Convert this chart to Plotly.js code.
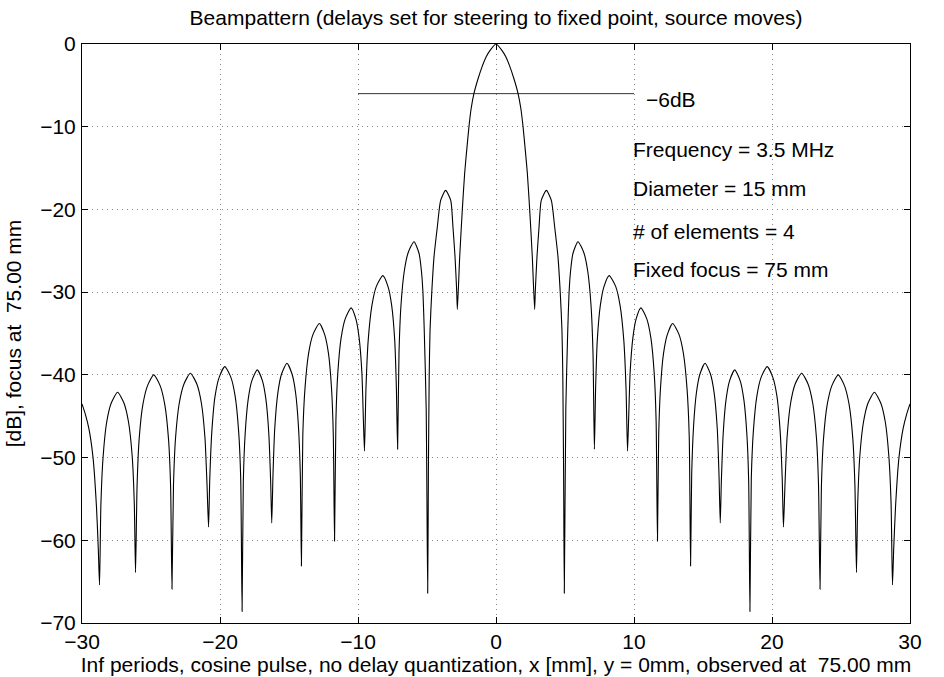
<!DOCTYPE html>
<html>
<head>
<meta charset="utf-8">
<script src="https://cdn.plot.ly/plotly-3.0.1.min.js"></script>
<style>html,body{margin:0;padding:0;background:#fff;}#chart{width:944px;height:677px;}</style>
</head>
<body>
<div id="chart"></div>
<script>
// Lateral position x [mm] and beampattern level [dB]
const beamX = [
 -30,-29.75,-29.5,-29.2,-28.95,-28.82,-28.73,
 -28.63,-28.47,-28.21,-27.88,-27.42,-26.96,-26.63,-26.36,-26.21,-26.12,
 -26.01,-25.86,-25.59,-25.25,-24.8,-24.34,-24.0,-23.73,-23.58,-23.48,
 -23.37,-23.22,-22.95,-22.61,-22.15,-21.68,-21.35,-21.09,-20.94,-20.83,
 -20.74,-20.59,-20.36,-20.06,-19.65,-19.21,-18.9,-18.65,-18.5,-18.4,
 -18.31,-18.18,-17.96,-17.69,-17.3,-16.93,-16.67,-16.46,-16.33,-16.25,
 -16.16,-16.03,-15.81,-15.54,-15.15,-14.78,-14.52,-14.31,-14.18,-14.1,
 -14.0,-13.84,-13.58,-13.26,-12.8,-12.42,-12.14,-11.92,-11.79,-11.7,
 -11.6,-11.46,-11.22,-10.92,-10.5,-10.16,-9.92,-9.72,-9.61,-9.53,
 -9.42,-9.26,-8.99,-8.67,-8.2,-7.83,-7.56,-7.34,-7.22,-7.13,
 -7.03,-6.89,-6.65,-6.36,-5.94,-5.58,-5.4,-5.29,-5.2,-5.06,-4.95,
 -4.9,-4.84,-4.78,-4.66,-4.49,-4.25,-4.01,-3.65,-3.28,-3.12,-2.97,-2.85,-2.8,
 -2.63,-2.44,-2.27,-2.12,-1.96,-1.8,-1.6,-1.3,-1.0,-0.7,-0.4,0,
 0.4,0.7,1.0,1.3,1.6,1.8,1.96,2.12,2.27,2.44,2.63,
 2.8,2.85,2.97,3.12,3.28,3.65,4.01,4.25,4.49,4.66,4.78,4.84,4.9,
 4.95,5.06,5.2,5.29,5.4,5.58,5.94,6.36,6.65,6.89,7.03,
 7.13,7.22,7.34,7.56,7.83,8.2,8.67,8.99,9.26,9.42,
 9.53,9.61,9.72,9.92,10.16,10.5,10.92,11.22,11.46,11.6,
 11.7,11.79,11.92,12.14,12.42,12.8,13.26,13.58,13.84,14.0,
 14.1,14.18,14.31,14.52,14.78,15.15,15.54,15.81,16.03,16.16,
 16.25,16.33,16.46,16.67,16.93,17.3,17.69,17.96,18.18,18.31,
 18.4,18.5,18.65,18.9,19.21,19.65,20.06,20.36,20.59,20.74,
 20.83,20.94,21.09,21.35,21.68,22.15,22.61,22.95,23.22,23.37,
 23.48,23.58,23.73,24.0,24.34,24.8,25.25,25.59,25.86,26.01,
 26.12,26.21,26.36,26.63,26.96,27.42,27.88,28.21,28.47,28.63,
 28.73,28.82,28.95,29.2,29.5,29.75,30
];
const beamDb = [
 -43.5,-44.8,-46.5,-50,-56,-61,-65.4,
 -55.6,-49.9,-45.7,-43.4,-42.1,-43.4,-45.7,-49.9,-55.6,-63.9,
 -53.5,-47.8,-43.6,-41.3,-40.0,-41.3,-43.6,-47.8,-53.5,-65.9,
 -53.3,-47.6,-43.4,-41.1,-39.8,-41.1,-43.4,-47.6,-53.3,-58.4,
 -52.5,-46.8,-42.6,-40.3,-39.0,-40.3,-42.6,-46.8,-52.5,-68.6,
 -52.9,-47.2,-43.0,-40.7,-39.4,-40.7,-43.0,-47.2,-52.9,-57.9,
 -52.1,-46.4,-42.2,-39.9,-38.6,-39.9,-42.2,-46.4,-52.1,-63.1,
 -47.3,-41.6,-37.4,-35.1,-33.8,-35.1,-37.4,-41.6,-47.3,-60.1,
 -45.4,-39.7,-35.5,-33.2,-31.9,-33.2,-35.5,-39.7,-45.4,-49.2,
 -41.5,-35.8,-31.6,-29.3,-28.0,-29.3,-31.6,-35.8,-41.5,-49.0,
 -37.4,-31.7,-27.5,-25.2,-23.9,-25.3,-27.5,-30.2,-34.6,-44,-66.4,
 -52,-40,-34.6,-30.2,-25.7,-22.1,-18.9,-17.7,-18.9,-22.1,-25.7,-29.8,-32.1,
 -25.7,-20,-15.6,-12.8,-10,-7.8,-6.0,-4.2,-2.7,-1.5,-0.7,0,
 -0.7,-1.5,-2.7,-4.2,-6.0,-7.8,-10,-12.8,-15.6,-20,-25.7,
 -32.1,-29.8,-25.7,-22.1,-18.9,-17.7,-18.9,-22.1,-25.7,-30.2,-34.6,-40,-52,
 -66.4,-44,-34.6,-30.2,-27.5,-25.3,-23.9,-25.2,-27.5,-31.7,-37.4,
 -49.0,-41.5,-35.8,-31.6,-29.3,-28.0,-29.3,-31.6,-35.8,-41.5,
 -49.2,-45.4,-39.7,-35.5,-33.2,-31.9,-33.2,-35.5,-39.7,-45.4,
 -60.1,-47.3,-41.6,-37.4,-35.1,-33.8,-35.1,-37.4,-41.6,-47.3,
 -63.1,-52.1,-46.4,-42.2,-39.9,-38.6,-39.9,-42.2,-46.4,-52.1,
 -57.9,-52.9,-47.2,-43.0,-40.7,-39.4,-40.7,-43.0,-47.2,-52.9,
 -68.6,-52.5,-46.8,-42.6,-40.3,-39.0,-40.3,-42.6,-46.8,-52.5,
 -58.4,-53.3,-47.6,-43.4,-41.1,-39.8,-41.1,-43.4,-47.6,-53.3,
 -65.9,-53.5,-47.8,-43.6,-41.3,-40.0,-41.3,-43.6,-47.8,-53.5,
 -63.9,-55.6,-49.9,-45.7,-43.4,-42.1,-43.4,-45.7,-49.9,-55.6,
 -65.4,-61,-56,-50,-46.5,-44.8,-43.5
];
// -6 dB reference line
const sixDbX = [-10, 10];
const sixDbY = [-6, -6];
// Tick values
const xTicks = [-30, -20, -10, 0, 10, 20, 30];
const yTicks = [-70, -60, -50, -40, -30, -20, -10, 0];
// Text labels
const titleText = 'Beampattern (delays set for steering to fixed point, source moves)';
const xTitle = 'Inf periods, cosine pulse, no delay quantization, x [mm], y = 0mm, observed at\u00a0\u00a075.00 mm';
const yTitle = '[dB], focus at\u00a0\u00a075.00 mm';
const infoLabels = ['Frequency = 3.5 MHz', 'Diameter = 15 mm', '# of elements = 4', 'Fixed focus = 75 mm'];
const infoX = [9.75, 9.8, 9.8, 9.8];
const infoY = [-12.8, -17.45, -22.7, -27.3];
const sixDbLabel = '\u22126dB';
const sixDbLabelX = 10.75;
const sixDbLabelY = -6.7;

const FONT = 'Liberation Sans, Arial, Helvetica, sans-serif';
const FS = 21;

const traces = [
  {x: beamX, y: beamDb, type: 'scatter', mode: 'lines',
   line: {color: '#000', width: 1.1, shape: 'spline', smoothing: 0.6}, hoverinfo: 'skip'},
  {x: sixDbX, y: sixDbY, type: 'scatter', mode: 'lines',
   line: {color: '#000', width: 0.8}, hoverinfo: 'skip'}
];

const annotations = infoLabels.map((t, i) => ({
  x: infoX[i], y: infoY[i], xref: 'x', yref: 'y', text: t, showarrow: false,
  xanchor: 'left', yanchor: 'middle', font: {family: FONT, size: FS, color: '#000'}
}));
annotations.push({x: sixDbLabelX, y: sixDbLabelY, xref: 'x', yref: 'y', text: sixDbLabel,
  showarrow: false, xanchor: 'left', yanchor: 'middle', font: {family: FONT, size: FS, color: '#000'}});

const axisCommon = {
  showline: true, linecolor: '#000', linewidth: 1, mirror: 'ticks',
  ticks: 'inside', ticklen: 6, tickcolor: '#000', tickwidth: 1,
  showgrid: true, gridcolor: '#888', gridwidth: 1, griddash: '1px,4px',
  zeroline: false, tickfont: {family: FONT, size: FS, color: '#000'}
};

const layout = {
  width: 944, height: 677,
  paper_bgcolor: '#fff', plot_bgcolor: '#fff',
  showlegend: false,
  margin: {l: 82, r: 34, t: 44, b: 54},
  font: {family: FONT, size: FS, color: '#000'},
  title: {text: titleText, font: {family: FONT, size: FS, color: '#000'},
          x: 0.5, xanchor: 'center', xref: 'paper', y: 1 - 18/677, yref: 'container', yanchor: 'middle'},
  xaxis: Object.assign({}, axisCommon, {
    range: [-30, 30], tickvals: xTicks, ticktext: xTicks.map(v => v < 0 ? '\u2212' + Math.abs(v) : String(v)),
    ticklabelstandoff: 0,
    title: {text: xTitle, font: {family: FONT, size: FS, color: '#000'}, standoff: 2}
  }),
  yaxis: Object.assign({}, axisCommon, {
    range: [-70, 0], tickvals: yTicks, ticktext: yTicks.map(v => v < 0 ? '\u2212' + Math.abs(v) : String(v)),
    ticklabelstandoff: 1,
    title: {text: yTitle, font: {family: FONT, size: FS, color: '#000'}, standoff: 12}
  }),
  annotations: annotations
};

Plotly.newPlot('chart', traces, layout, {staticPlot: true, displayModeBar: false});
</script>
</body>
</html>
